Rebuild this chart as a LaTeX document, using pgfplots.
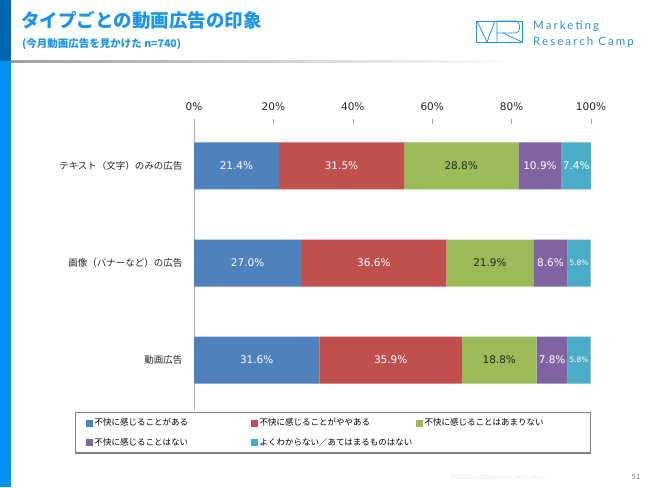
\documentclass[border=0pt]{standalone}
\usepackage{fontspec}
\setmainfont{Noto Sans CJK JP}
\newfontfamily\logofont[LetterSpace=18]{Lato}
\newfontfamily\numfont{DejaVu Sans}
\usepackage{pgfplots}
\pgfplotsset{compat=1.18}
\definecolor{c1}{HTML}{4F81BD}
\definecolor{c2}{HTML}{C0504D}
\definecolor{c3}{HTML}{9BBB59}
\definecolor{c4}{HTML}{8064A2}
\definecolor{c5}{HTML}{4BACC6}
\definecolor{titleblue}{HTML}{1E94E8}
\definecolor{bardark}{HTML}{0066B3}
\definecolor{barbright}{HTML}{0092F2}
\definecolor{logoblue}{HTML}{2E90DA}
\begin{document}
\begin{tikzpicture}[x=1pt,y=1pt]
\useasboundingbox (0pt,0pt) rectangle (650pt,487pt);
\fill[white] (0,0) rectangle (650,487);
\fill[bardark] (0,426) rectangle (11,487);
\fill[barbright] (0,0) rectangle (11,426);
\shade[left color=gray!75, right color=white] (11,424.5) rectangle (520,426);
\node[anchor=west, inner sep=0, text=titleblue, font=\fontsize{18.5}{22}\selectfont\bfseries] at (21,467) {タイプごとの動画広告の印象};
\node[anchor=west, inner sep=0, text=titleblue, font=\fontsize{10.5}{12}\selectfont\bfseries] at (22,443) {(今月動画広告を見かけた n=740)};
% logo
\draw[logoblue, line width=0.8pt] (476,445) rectangle (522,466);
\draw[logoblue, line width=0.8pt] (477,466) -- (487,445) -- (495,466);
\draw[logoblue, line width=0.8pt] (497,445) -- (497,466) -- (516,466) .. controls (521,466) and (521,454) .. (516,454) -- (497,454);
\draw[logoblue, line width=0.8pt] (503,454) -- (522,445);
\node[anchor=base west, inner sep=0, text=logoblue, font=\logofont\fontsize{11.5}{13}\selectfont] at (533,457) {Marketing};
\node[anchor=base west, inner sep=0, text=logoblue, font=\logofont\fontsize{11.5}{13}\selectfont] at (533,441) {Research Camp};
% footer
\node[text=black!9, font=\fontsize{6.5}{8}\selectfont, inner sep=0] at (499,9) {©2020JustSystems Corporation};
\node[text=black!50, font=\numfont\fontsize{7}{8}\selectfont, inner sep=0] at (636,10) {51};
\begin{axis}[
  at={(194pt,368pt)}, anchor=north west,
  scale only axis, width=397pt, height=291pt,
  xbar stacked, bar width=47pt,
  xmin=0, xmax=100, ymin=-0.515, ymax=2.4845,
  /pgf/number format/assume math mode=true,
  axis x line*=top, axis y line*=left,
  x axis line style={draw=none},
  y axis line style={draw=black!30, line width=0.8pt},
  xtick={0,20,40,60,80,100},
  xticklabels={0\%,20\%,40\%,60\%,80\%,100\%},
  tick align=inside,
  x tick style={draw=black!35, line width=0.6pt},
  major tick length=5pt,
  xticklabel style={font=\numfont\fontsize{10.5}{12}\selectfont, text=black!85, yshift=5pt},
  ytick={0,1,2},
  yticklabels={動画広告,画像（バナーなど）の広告,テキスト（文字）のみの広告},
  y tick style={draw=none},
  yticklabel style={font=\fontsize{9.5}{11}\selectfont, text=black!85, xshift=-8pt},
  visualization depends on={rawx \as \myrawx},
  nodes near coords={\ifdim\myrawx pt<7pt\fontsize{7.5}{9}\selectfont\fi\pgfmathprintnumber[fixed,fixed zerofill,precision=1]{\myrawx}\%},
  every node near coord/.append style={anchor=center, font=\numfont\fontsize{10.5}{12}\selectfont},
  legend columns=3,
  legend cell align=left,
  legend style={at={(-0.2997,-0.00687)}, anchor=north west, draw=black!50, line width=1.4pt,
    inner xsep=10pt, inner ysep=4pt, font=\fontsize{8.5}{10}\selectfont, row sep=7pt,
    /tikz/every even column/.append style={text width=154pt}},
  legend image code/.code={\fill[#1] (0pt,-3.5pt) rectangle (7pt,3.5pt);},
]
\addplot+[fill=c1, draw=none, every node near coord/.append style={text=white}] coordinates {(21.4,2) (27.0,1) (31.6,0)};
\addplot+[fill=c2, draw=none, every node near coord/.append style={text=white}] coordinates {(31.5,2) (36.6,1) (35.9,0)};
\addplot+[fill=c3, draw=none, every node near coord/.append style={text=black!85}] coordinates {(28.8,2) (21.9,1) (18.8,0)};
\addplot+[fill=c4, draw=none, every node near coord/.append style={text=white}] coordinates {(10.9,2) (8.6,1) (7.8,0)};
\addplot+[fill=c5, draw=none, every node near coord/.append style={text=white}] coordinates {(7.4,2) (5.8,1) (5.8,0)};
\legend{不快に感じることがある,不快に感じることがややある,不快に感じることはあまりない\hspace*{15pt},不快に感じることはない,よくわからない／あてはまるものはない}
\end{axis}
\end{tikzpicture}
\end{document}
